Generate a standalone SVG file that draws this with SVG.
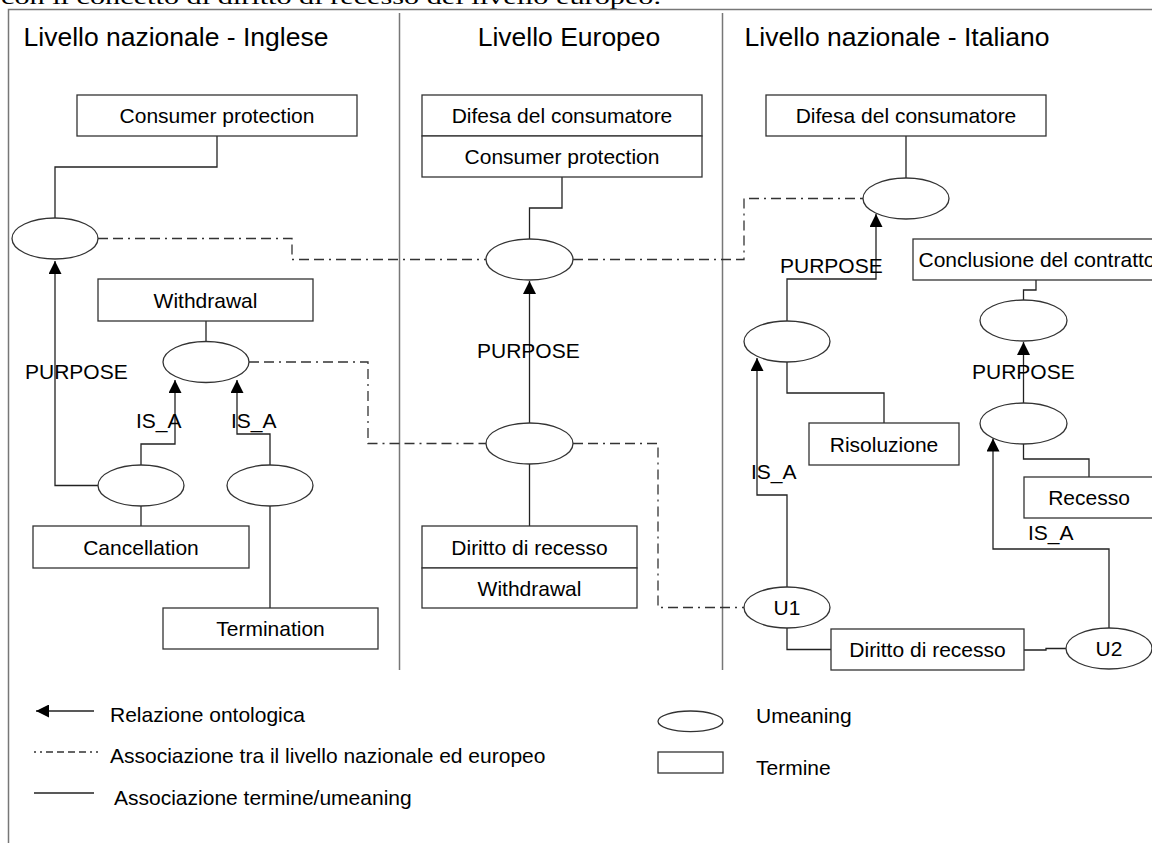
<svg xmlns="http://www.w3.org/2000/svg" width="1152" height="843" viewBox="0 0 1152 843">
<style>
text{font-family:"Liberation Sans",Arial,sans-serif;font-size:21px;fill:#000}
.hd{font-size:26.5px;text-anchor:middle}
.c{text-anchor:middle}
.n rect,.n ellipse{fill:#fff;stroke:#333;stroke-width:1.3}
.ln{fill:none;stroke:#222;stroke-width:1.3}
.dd{fill:none;stroke:#333;stroke-width:1.3;stroke-dasharray:10,5,10,5,2,5}
.fr{fill:none;stroke:#777;stroke-width:1.5}
</style>
<defs>
<marker id="ar" markerUnits="userSpaceOnUse" markerWidth="14" markerHeight="13" refX="13" refY="6.5" orient="auto">
<path d="M0,0 L13,6.5 L0,13 z" fill="#000"/>
</marker>
</defs>
<rect width="1152" height="843" fill="#fff"/>
<text x="1" y="4" textLength="660" lengthAdjust="spacingAndGlyphs" style="font-family:'Liberation Serif','Times New Roman',serif;font-size:22px">con il concetto di diritto di recesso del livello europeo.</text>
<path class="fr" d="M8.5,843 V9.5 H1152"/>
<path class="fr" d="M399.5,13 V670 M722.5,13 V670"/>
<text class="hd" x="176" y="46">Livello nazionale - Inglese</text>
<text class="hd" x="569" y="46">Livello Europeo</text>
<text class="hd" x="897" y="46">Livello nazionale - Italiano</text>

<g id="connectors">
<path class="ln" d="M217,136 V167 H55 V218"/>
<path class="ln" d="M206,321 V342"/>
<path class="ln" d="M98,485.5 H55 V261" marker-end="url(#ar)"/>
<path class="ln" d="M141,465 V444 H175 V380" marker-end="url(#ar)"/>
<path class="ln" d="M270,465 V434 H237 V380" marker-end="url(#ar)"/>
<path class="ln" d="M141,506 V526"/>
<path class="ln" d="M270,506 V608"/>
<path class="dd" d="M98,238.5 H292 V259.5 H486"/>
<path class="dd" d="M249,362 H368 V443.5 H486"/>
<path class="dd" d="M573,259.5 H744 V198.5 H863"/>
<path class="dd" d="M573,443.5 H658 V607.5 H744"/>
<path class="ln" d="M562,177 V208 H529.5 V239"/>
<path class="ln" d="M529.5,423 V281" marker-end="url(#ar)"/>
<path class="ln" d="M529.5,464 V526"/>
<path class="ln" d="M906,136 V178"/>
<path class="ln" d="M787,321 V279 H876 V214" marker-end="url(#ar)"/>
<path class="ln" d="M1036,280 V290 H1023.5 V300"/>
<path class="ln" d="M1023.5,403 V342" marker-end="url(#ar)"/>
<path class="ln" d="M1023.5,444 V459 H1089 V477"/>
<path class="ln" d="M787,362 V393 H884 V423"/>
<path class="ln" d="M787,587 V495 H757 V358" marker-end="url(#ar)"/>
<path class="ln" d="M1109,628 V549 H993 V438.5" marker-end="url(#ar)"/>
<path class="ln" d="M787,628 V649.5 H831"/>
<path class="ln" d="M1024,650 H1046 V648.5 H1066"/>
</g>

<g id="en-consumer" class="n"><rect x="77" y="95" width="280" height="41"/><text class="c" x="217" y="123">Consumer protection</text></g>
<g id="en-u-consumer" class="n"><ellipse cx="55" cy="238.5" rx="43" ry="20.5"/></g>
<g id="en-withdrawal" class="n"><rect x="98" y="279" width="215" height="42"/><text class="c" x="205.5" y="307.5">Withdrawal</text></g>
<g id="en-u-withdrawal" class="n"><ellipse cx="206" cy="362" rx="43" ry="20.5"/></g>
<g id="en-u-cancellation" class="n"><ellipse cx="141" cy="485.5" rx="43" ry="20.5"/></g>
<g id="en-u-termination" class="n"><ellipse cx="270" cy="485.5" rx="43" ry="20.5"/></g>
<g id="en-cancellation" class="n"><rect x="33" y="526" width="216" height="42"/><text class="c" x="141" y="554.5">Cancellation</text></g>
<g id="en-termination" class="n"><rect x="163" y="608" width="215" height="41"/><text class="c" x="270.5" y="636">Termination</text></g>

<g id="eu-consumer" class="n"><rect x="422" y="95" width="280" height="41"/><rect x="422" y="136" width="280" height="41"/><text class="c" x="562" y="123">Difesa del consumatore</text><text class="c" x="562" y="164">Consumer protection</text></g>
<g id="eu-u-consumer" class="n"><ellipse cx="529.5" cy="259.5" rx="43.5" ry="20.5"/></g>
<g id="eu-u-recesso" class="n"><ellipse cx="529.5" cy="443.5" rx="43.5" ry="20.5"/></g>
<g id="eu-recesso" class="n"><rect x="422" y="526" width="215" height="42"/><rect x="422" y="568" width="215" height="40"/><text class="c" x="529.5" y="554.5">Diritto di recesso</text><text class="c" x="529.5" y="595.5">Withdrawal</text></g>

<g id="it-consumer" class="n"><rect x="766" y="95" width="280" height="41"/><text class="c" x="906" y="123">Difesa del consumatore</text></g>
<g id="it-u-consumer" class="n"><ellipse cx="906" cy="198.5" rx="43" ry="20.5"/></g>
<g id="it-conclusione" class="n"><rect x="913" y="239" width="250" height="41"/><text class="c" x="1037" y="267">Conclusione del contratto</text></g>
<g id="it-u-conclusione" class="n"><ellipse cx="1023.5" cy="320.5" rx="43.5" ry="20.5"/></g>
<g id="it-u-risoluzione" class="n"><ellipse cx="787" cy="341.5" rx="43" ry="20.5"/></g>
<g id="it-u-recesso" class="n"><ellipse cx="1023.5" cy="423.5" rx="43.5" ry="20.5"/></g>
<g id="it-risoluzione" class="n"><rect x="809" y="423" width="150" height="42"/><text class="c" x="884" y="451.5">Risoluzione</text></g>
<g id="it-recesso" class="n"><rect x="1024" y="477" width="130" height="41"/><text class="c" x="1089" y="505">Recesso</text></g>
<g id="it-u1" class="n"><ellipse cx="787" cy="607.5" rx="43" ry="20.5"/><text class="c" x="787" y="615">U1</text></g>
<g id="it-diritto" class="n"><rect x="831" y="629" width="193" height="41"/><text class="c" x="927.5" y="657">Diritto di recesso</text></g>
<g id="it-u2" class="n"><ellipse cx="1109" cy="648.5" rx="43" ry="20.5"/><text class="c" x="1109" y="656">U2</text></g>

<g id="labels">
<text x="25" y="379">PURPOSE</text>
<text x="136" y="428">IS_A</text>
<text x="231" y="428">IS_A</text>
<text x="477" y="358">PURPOSE</text>
<text x="780" y="273">PURPOSE</text>
<text x="972" y="379">PURPOSE</text>
<text x="751" y="479">IS_A</text>
<text x="1028" y="540">IS_A</text>
</g>

<g id="legend">
<path class="ln" d="M94,711 H36" marker-end="url(#ar)"/>
<text x="110" y="722">Relazione ontologica</text>
<path fill="none" stroke="#333" stroke-width="1.3" stroke-dasharray="2,4,2,4,7,4,7,4,7,4,7,4" d="M34,752 H99"/>
<text x="110" y="763">Associazione tra il livello nazionale ed europeo</text>
<path class="ln" d="M34,793 H94"/>
<text x="114" y="805">Associazione termine/umeaning</text>
<g class="n"><ellipse cx="690.5" cy="721.3" rx="32.5" ry="10.3"/><rect x="658" y="752" width="65" height="21"/></g>
<text x="756" y="723">Umeaning</text>
<text x="756" y="775">Termine</text>
</g>
</svg>
